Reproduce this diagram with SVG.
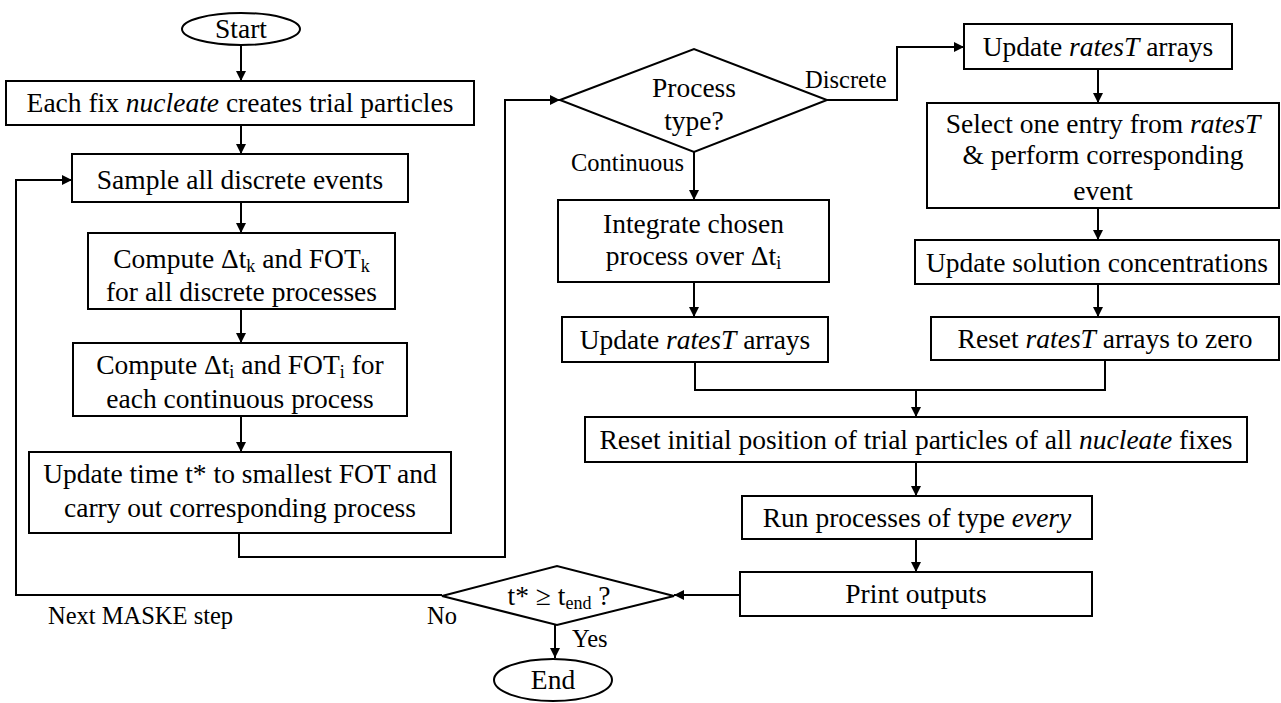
<svg xmlns="http://www.w3.org/2000/svg" width="1281" height="703" viewBox="0 0 1281 703">
<defs>
<marker id="ah" markerUnits="userSpaceOnUse" markerWidth="11" markerHeight="11" refX="10" refY="5" orient="auto">
<path d="M0,0 L10,5 L0,10 z" fill="#000"/>
</marker>
<style>
.n{fill:#fff;stroke:#000;stroke-width:2}
.t{font-family:"Liberation Serif","Times New Roman",serif;font-size:27.5px;fill:#000;text-anchor:middle}
.l{font-family:"Liberation Serif","Times New Roman",serif;font-size:24.5px;fill:#000}
.c{fill:none;stroke:#000;stroke-width:2}
.a{marker-end:url(#ah)}
.i{font-style:italic}
.s{font-size:18px}
</style>
</defs>
<rect width="1281" height="703" fill="#fff"/>
<g id="connectors">
<path class="c a" d="M241,45 V81"/>
<path class="c a" d="M241,125 V154"/>
<path class="c a" d="M241,202 V233"/>
<path class="c a" d="M241,309 V343"/>
<path class="c a" d="M241,416 V452"/>
<path class="c a" d="M239,533 V557 H505 V100 H560"/>
<path class="c a" d="M827,100 H897 V47 H964"/>
<path class="c a" d="M694,152 V200"/>
<path class="c a" d="M694,282 V317"/>
<path class="c a" d="M1098,69 V103"/>
<path class="c a" d="M1098,208 V240"/>
<path class="c a" d="M1098,284 V317"/>
<path class="c" d="M695,362 V390 H1105 V360"/>
<path class="c a" d="M916,390 V417"/>
<path class="c a" d="M916,462 V496"/>
<path class="c a" d="M916,539 V572"/>
<path class="c a" d="M740,595 H674"/>
<path class="c a" d="M442,595 H16 V180 H72"/>
<path class="c a" d="M555,625 V658"/>
<text class="l" x="805" y="88">Discrete</text>
<text class="l" x="571" y="171">Continuous</text>
<text class="l" x="48" y="624">Next MASKE step</text>
<text class="l" x="427" y="624">No</text>
<text class="l" x="572" y="647">Yes</text>
</g>
<g id="start">
<ellipse class="n" cx="241" cy="29" rx="59" ry="16"/>
<text class="t" x="241" y="38">Start</text>
</g>
<g id="nucleate">
<rect class="n" x="6" y="81" width="468" height="44"/>
<text class="t" x="240" y="112">Each fix <tspan class="i">nucleate</tspan> creates trial particles</text>
</g>
<g id="sample">
<rect class="n" x="72" y="154" width="336" height="48"/>
<text class="t" x="240" y="189">Sample all discrete events</text>
</g>
<g id="computek">
<rect class="n" x="88" y="233" width="307" height="76"/>
<text class="t" x="241.5" y="268">Compute Δt<tspan class="s" dy="4">k</tspan><tspan dy="-4"> and FOT</tspan><tspan class="s" dy="4">k</tspan></text>
<text class="t" x="241.5" y="301">for all discrete processes</text>
</g>
<g id="computei">
<rect class="n" x="73" y="343" width="334" height="73"/>
<text class="t" x="240" y="374">Compute Δt<tspan class="s" dy="4">i</tspan><tspan dy="-4"> and FOT</tspan><tspan class="s" dy="4">i</tspan><tspan dy="-4"> for</tspan></text>
<text class="t" x="240" y="408">each continuous process</text>
</g>
<g id="updatetime">
<rect class="n" x="29" y="452" width="422" height="81"/>
<text class="t" x="240" y="483">Update time t* to smallest FOT and</text>
<text class="t" x="240" y="517">carry out corresponding process</text>
</g>
<g id="processtype">
<polygon class="n" points="560,100 694,49 827,100 694,152"/>
<text class="t" x="694" y="97">Process</text>
<text class="t" x="694" y="130">type?</text>
</g>
<g id="integrate">
<rect class="n" x="558" y="200" width="271" height="82"/>
<text class="t" x="693.5" y="233">Integrate chosen</text>
<text class="t" x="693.5" y="265">process over Δt<tspan class="s" dy="4">i</tspan></text>
</g>
<g id="updateratesleft">
<rect class="n" x="562" y="317" width="266" height="45"/>
<text class="t" x="695" y="349">Update <tspan class="i">ratesT</tspan> arrays</text>
</g>
<g id="updateratesright">
<rect class="n" x="964" y="24" width="268" height="45"/>
<text class="t" x="1098" y="56">Update <tspan class="i">ratesT</tspan> arrays</text>
</g>
<g id="select">
<rect class="n" x="927" y="103" width="352" height="105"/>
<text class="t" x="1103" y="133">Select one entry from <tspan class="i">ratesT</tspan></text>
<text class="t" x="1103" y="164">&amp; perform corresponding</text>
<text class="t" x="1103" y="200">event</text>
</g>
<g id="updatesolution">
<rect class="n" x="915" y="240" width="364" height="44"/>
<text class="t" x="1097" y="272">Update solution concentrations</text>
</g>
<g id="resetrates">
<rect class="n" x="931" y="317" width="348" height="43"/>
<text class="t" x="1105" y="348">Reset <tspan class="i">ratesT</tspan> arrays to zero</text>
</g>
<g id="resetinitial">
<rect class="n" x="585" y="417" width="662" height="45"/>
<text class="t" x="916" y="449">Reset initial position of trial particles of all <tspan class="i">nucleate</tspan> fixes</text>
</g>
<g id="runevery">
<rect class="n" x="742" y="496" width="350" height="43"/>
<text class="t" x="917" y="527">Run processes of type <tspan class="i">every</tspan></text>
</g>
<g id="print">
<rect class="n" x="740" y="572" width="352" height="44"/>
<text class="t" x="916" y="603">Print outputs</text>
</g>
<g id="tend">
<polygon class="n" points="442,596 557,566 674,596 557,625"/>
<text class="t" x="559" y="605">t* ≥ t<tspan class="s" dy="4">end</tspan><tspan dy="-4"> ?</tspan></text>
</g>
<g id="end">
<ellipse class="n" cx="553" cy="680" rx="59" ry="21"/>
<text class="t" x="553" y="689">End</text>
</g>
</svg>
